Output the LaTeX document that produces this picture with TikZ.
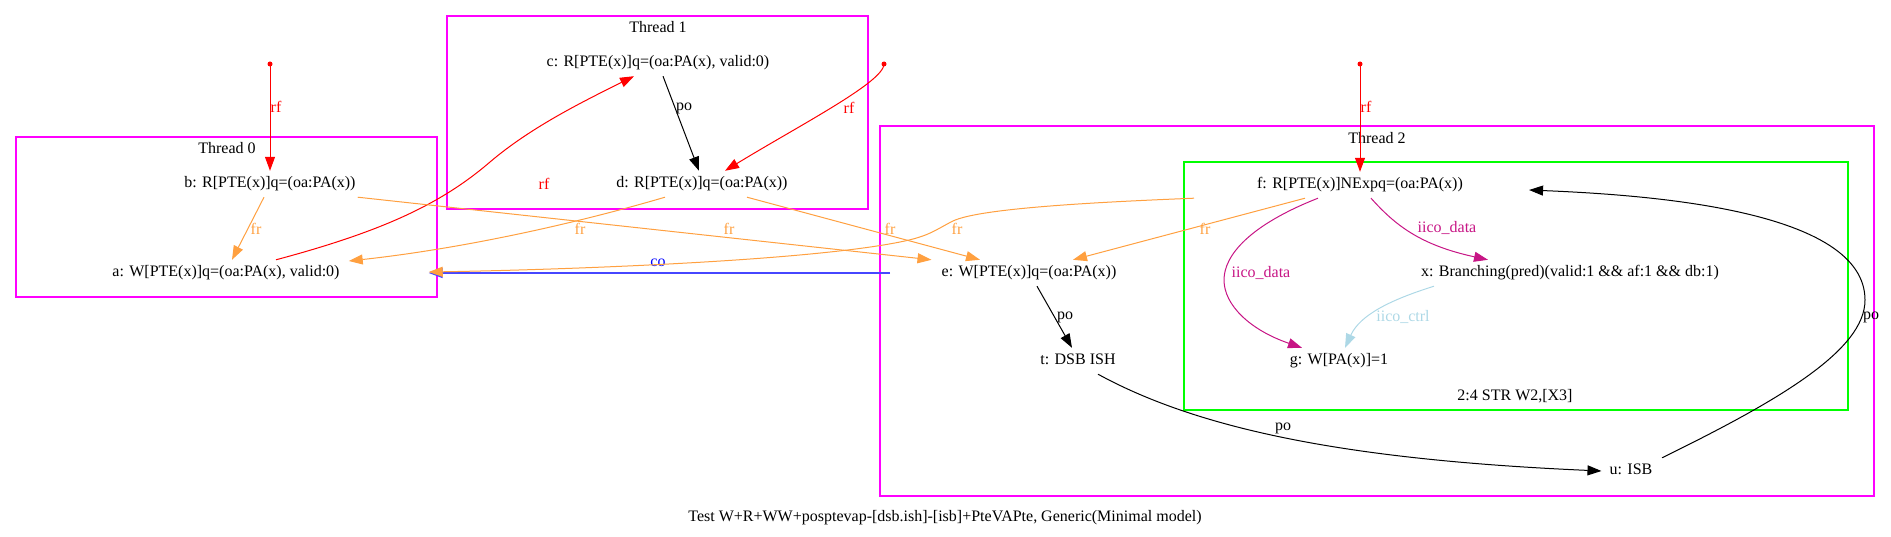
\documentclass[tikz,border=0pt]{standalone}
\usepackage{fontspec}
\setmainfont{Liberation Serif}
\usetikzlibrary{arrows.meta}
\definecolor{frc}{RGB}{255,160,64}
\definecolor{coc}{RGB}{70,70,255}
\definecolor{iicod}{RGB}{199,21,133}
\definecolor{iicoc}{RGB}{173,216,230}
\definecolor{clmag}{RGB}{255,0,255}
\definecolor{clgreen}{RGB}{0,255,0}
\begin{document}
\begin{tikzpicture}[x=1pt,y=-1pt,
  ev/.style={inner xsep=2pt, inner ysep=0pt, minimum height=26pt, text height=10pt, text depth=3pt, font=\fontsize{16}{19}\selectfont},
  lbl/.style={inner sep=0pt, font=\fontsize{16}{19}\selectfont},
  conn/.style={line width=1pt, -{Triangle[length=14pt,width=10pt]}},
  clus/.style={draw=clmag, line width=1.3pt},
  gclus/.style={draw=clgreen, line width=1.3pt},
  srcdot/.style={fill=red}
]
\useasboundingbox (0,0) rectangle (1891,537);

% clusters
\draw[clus] (16,137) rectangle (437,297);
\node[lbl] (th0) at (227,148) {Thread 0};
\draw[clus] (447,16) rectangle (868,209);
\node[lbl] (th1) at (658,27) {Thread 1};
\draw[clus] (880,126) rectangle (1874,496);
\node[lbl] (th2) at (1377,138) {Thread 2};
\draw[gclus] (1184,162) rectangle (1848,410);
\node[lbl] (ins) at (1515,396) {2:4 STR W2,[X3]};

% events
\node[ev] (b) at (270,184) {b: R[PTE(x)]q=(oa:PA(x))};
\node[ev] (a) at (226,273) {a: W[PTE(x)]q=(oa:PA(x), valid:0)};
\node[ev] (c) at (658,63) {c: R[PTE(x)]q=(oa:PA(x), valid:0)};
\node[ev] (d) at (702,184) {d: R[PTE(x)]q=(oa:PA(x))};
\node[ev] (e) at (1029,273) {e: W[PTE(x)]q=(oa:PA(x))};
\node[ev] (t) at (1078,361) {t: DSB ISH};
\node[ev] (f) at (1360,185) {f: R[PTE(x)]NExpq=(oa:PA(x))};
\node[ev] (x) at (1570,273) {x: Branching(pred)(valid:1 \&\& af:1 \&\& db:1)};
\node[ev] (g) at (1339,361) {g: W[PA(x)]=1};
\node[ev] (u) at (1631,471) {u: ISB};

% initial-write sources
\coordinate (srcb) at (270,64);
\coordinate (srcd) at (884,64);
\coordinate (srcf) at (1360,64);
\coordinate (coe) at (890,273);
\fill[srcdot] (srcb) circle (2.5);
\fill[srcdot] (srcd) circle (2.5);
\fill[srcdot] (srcf) circle (2.5);

% co
\draw[conn, coc, line width=1.5pt] (coe) -- ([xshift=87pt]a.east);
\node[lbl, text=blue] (lco) at (658,263) {co};

% rf
\draw[conn, red] (srcb) -- (b.north);
\node[lbl, text=red] (lrf1) at (276,107) {rf};
\draw[conn, red] (srcd) .. controls (884,82) and (800,125) .. ([xshift=23pt]d.north);
\node[lbl, text=red] (lrf2) at (849,108) {rf};
\draw[conn, red] (srcf) -- (f.north);
\node[lbl, text=red] (lrf3) at (1366,107) {rf};
\draw[conn, red] ([xshift=50pt]a.north) .. controls (380,232) and (440,205) .. (490,162) .. controls (530,128) and (580,103) .. ([xshift=-24pt]c.south);
\node[lbl, text=red] (lrf4) at (544,184) {rf};

% po
\draw[conn] ([xshift=5pt]c.south) -- ([xshift=-3pt]d.north);
\node[lbl] (lpo1) at (684,108) {po};
\draw[conn] ([xshift=8pt]e.south) -- ([xshift=-6pt]t.north);
\node[lbl] (lpo2) at (1065,317) {po};
\draw[conn] ([xshift=20pt]t.south) .. controls (1200,430) and (1350,460) .. ([xshift=-6pt]u.west);
\node[lbl] (lpo3) at (1283,428) {po};
\draw[conn] ([xshift=31pt]u.north) .. controls (1780,400) and (1865,350) .. (1865,300) .. controls (1865,210) and (1650,195) .. ([xshift=64pt,yshift=-5pt]f.east);
\node[lbl] (lpo4) at (1871,317) {po};

% fr
\draw[conn, frc] ([xshift=-6pt]b.south) -- ([xshift=6pt]a.north);
\node[lbl, text=frc] (lfr1) at (256,229) {fr};
\draw[conn, frc] (b.south east) -- ([xshift=-8pt]e.north west);
\node[lbl, text=frc] (lfr2) at (729,229) {fr};
\draw[conn, frc] ([xshift=-37pt]d.south) .. controls (560,228) and (450,250) .. ([xshift=7pt,yshift=12pt]a.east);
\node[lbl, text=frc] (lfr3) at (580,229) {fr};
\draw[conn, frc] ([xshift=45pt]d.south) -- ([xshift=-49pt]e.north);
\node[lbl, text=frc] (lfr4) at (890,229) {fr};
\draw[conn, frc] ([xshift=-55pt]f.south) -- ([xshift=44pt]e.north);
\node[lbl, text=frc] (lfr5) at (1205,229) {fr};
\draw[conn, frc] ([xshift=-166pt]f.south) .. controls (1100,202) and (980,208) .. (953,221) .. controls (935,230) and (930,236) .. (900,242) .. controls (800,262) and (550,270) .. ([xshift=87pt,yshift=1pt]a.east);
\node[lbl, text=frc] (lfr6) at (957,229) {fr};

% iico
\draw[conn, iicod] ([xshift=11pt]f.south) .. controls (1395,225) and (1420,245) .. ([xshift=-82pt]x.north);
\node[lbl, text=iicod] (lid1) at (1447,228) {iico\_data};
\draw[conn, iicod] ([xshift=-42pt]f.south) .. controls (1250,225) and (1224,255) .. (1224,280) .. controls (1224,305) and (1250,330) .. ([xshift=-37pt]g.north);
\node[lbl, text=iicod] (lid2) at (1261,273) {iico\_data};
\draw[conn, iicoc] ([xshift=-136pt]x.south) .. controls (1390,300) and (1360,315) .. ([xshift=6pt]g.north);
\node[lbl, text=iicoc] (lic) at (1403,317) {iico\_ctrl};

% caption
\node[lbl] (cap) at (945,518) {Test W+R+WW+posptevap-[dsb.ish]-[isb]+PteVAPte, Generic(Minimal model)};
\end{tikzpicture}
\end{document}
